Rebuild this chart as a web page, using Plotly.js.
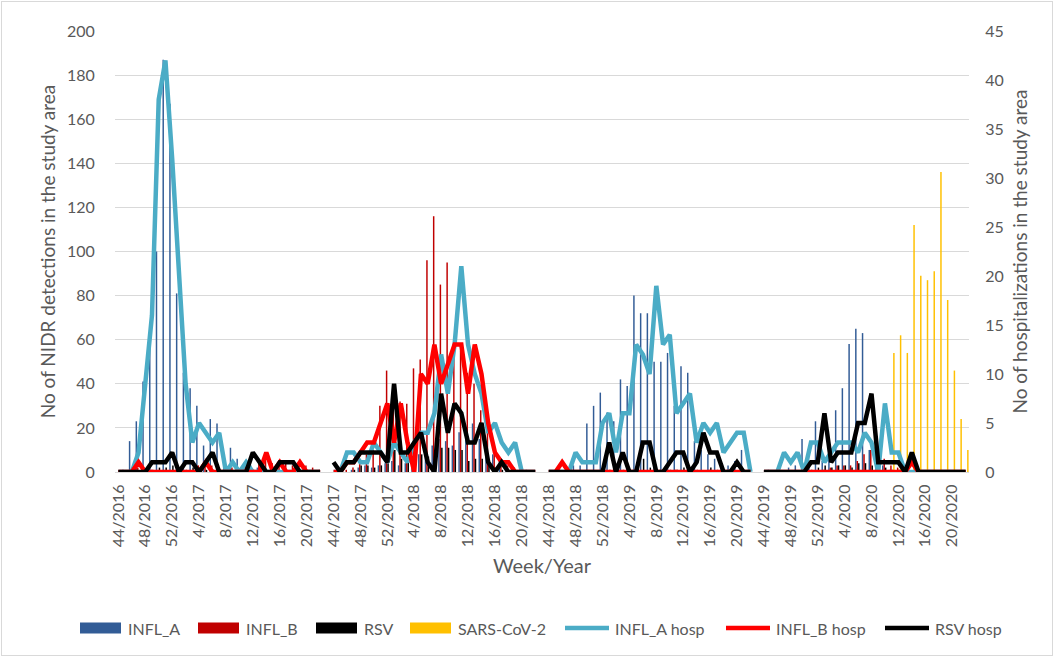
<!DOCTYPE html>
<html><head><meta charset="utf-8">
<script src="https://cdn.plot.ly/plotly-3.0.1.min.js"></script>
<style>
html,body{margin:0;padding:0;background:#fff}
#frame{position:absolute;left:1px;top:1px;width:1050px;height:653px;border:1px solid #D9D9D9}
#chart{position:absolute;left:0;top:0;width:1054px;height:657px}
</style>
</head><body><div id="frame"></div><div id="chart"></div>
<script>
// ---- categories (season weeks 44..22, one blank slot between seasons) ----
const seasonWeeks = [44,45,46,47,48,49,50,51,52,1,2,3,4,5,6,7,8,9,10,11,12,13,14,15,16,17,18,19,20,21,22];
const seasonYears = [[2016,2017],[2017,2018],[2018,2019],[2019,2020]];
const tickWeeks = [44,48,52,4,8,12,16,20];

// ---- series values (one value per category, null = blank slot) ----
const INFL_A = [
  0,1,14,23,41,60,100,187,167,81,45,38,30,12,24,22,8,11,6,4,3,2,1,1,1,0,0,0,0,0,0, null,
  0,0,0,1,2,3,2,3,4,5,3,4,6,8,10,12,15,14,12,18,20,22,15,12,8,6,4,2,1,1,0, null,
  0,0,1,2,3,3,22,30,36,27,23,42,39,80,72,72,50,50,54,30,48,45,14,10,8,6,4,3,5,10,1, null,
  0,1,0,0,2,3,15,5,23,5,8,28,38,58,65,63,10,5,3,1,0,0,0,0,0,0,0,0,0,0,0];
const INFL_B = [
  0,0,0,2,0,1,0,0,0,1,0,0,3,5,3,2,0,2,0,3,0,5,8,4,3,4,3,2,3,2,1, null,
  0,0,1,2,5,8,10,30,46,28,32,31,47,51,96,116,85,95,60,55,45,40,28,20,10,5,3,2,1,0,0, null,
  0,0,0,0,0,0,0,0,0,0,1,0,0,1,0,0,1,0,0,1,0,0,0,0,1,0,0,0,0,0,0, null,
  0,0,0,0,0,0,0,0,0,1,2,3,3,3,5,8,10,10,6,3,2,0,0,0,0,0,0,0,0,0,0];
const RSV = [
  0,0,0,0,1,1,2,2,3,2,1,2,2,1,1,1,1,0,0,0,1,0,0,0,0,0,0,0,0,0,0, null,
  0,0,0,1,3,3,2,3,4,10,6,5,4,8,7,6,11,11,10,10,5,6,6,4,2,1,0,0,0,0,0, null,
  0,0,0,0,0,0,0,0,0,1,0,1,0,1,6,2,1,1,1,1,2,1,1,0,2,1,1,0,0,0,0, null,
  0,0,0,0,0,0,0,1,2,3,2,3,3,2,4,4,3,3,2,1,1,0,0,0,0,0,0,0,0,0,0];
const SARS_CoV_2 = [
  0,0,0,0,0,0,0,0,0,0,0,0,0,0,0,0,0,0,0,0,0,0,0,0,0,0,0,0,0,0,0, null,
  0,0,0,0,0,0,0,0,0,0,0,0,0,0,0,0,0,0,0,0,0,0,0,0,0,0,0,0,0,0,0, null,
  0,0,0,0,0,0,0,0,0,0,0,0,0,0,0,0,0,0,0,0,0,0,0,0,0,0,0,0,0,0,0, null,
  0,0,0,0,0,0,0,0,0,0,0,0,0,0,0,0,0,0,0,54,62,54,112,89,87,91,136,78,46,24,10];
const INFL_A_hosp = [
  0,0,0,2,9,16,38,42,32,20,9,3,5,4,3,4,0,1,0,1,0,0,0,0,0,0,0,0,0,0,0, null,
  0,0,2,2,1,1,3,2,1,3,2,1,3,4,4,6,12,8,13,21,13,10,8,4,5,3,2,3,0,0,0, null,
  0,0,0,0,2,1,1,1,5,6,2,6,6,13,12,10,19,13,14,6,7,8,3,5,4,5,2,3,4,4,0, null,
  0,0,0,2,1,2,0,3,3,1,2,3,3,3,2,4,3,0,7,2,2,0,0,0,0,0,0,0,0,0,0];
const INFL_B_hosp = [
  0,0,0,1,0,0,0,0,0,0,0,0,0,1,0,0,0,0,0,0,0,0,2,0,1,0,0,1,0,0,0, null,
  0,0,1,1,2,3,3,5,7,3,7,3,0,10,9,13,9,11,13,13,8,13,10,5,2,1,1,0,0,0,0, null,
  0,0,1,0,0,0,0,0,0,0,0,0,0,0,0,0,0,0,0,0,0,0,0,0,0,0,0,0,0,0,0, null,
  0,0,0,0,0,0,0,0,0,0,0,0,0,0,0,0,0,0,0,0,0,0,1,0,0,0,0,0,0,0,0];
const RSV_hosp = [
  0,0,0,0,0,1,1,1,2,0,1,1,0,1,2,0,0,0,0,0,2,1,0,0,1,1,1,0,0,0,0, null,
  1,0,1,1,2,2,2,2,1,9,2,2,3,4,1,0,8,4,7,6,3,3,5,1,0,1,0,0,0,0,0, null,
  0,0,0,0,0,0,0,0,0,3,0,2,0,0,3,3,0,0,1,2,2,0,1,4,2,2,0,0,1,0,0, null,
  0,0,0,0,0,0,0,1,1,6,1,2,2,2,5,5,8,1,1,1,1,0,2,0,0,0,0,0,0,0,0];

// ---- build category labels ----
const categories = [];
const tickvals = [];
seasonYears.forEach(([y1, y2], s) => {
  seasonWeeks.forEach(w => {
    const lab = w + '/' + (w >= 44 ? y1 : y2);
    categories.push(lab);
    if (tickWeeks.includes(w)) tickvals.push(lab);
  });
  if (s < seasonYears.length - 1) categories.push('gap' + (s + 1));
});

const FONT = 'Lato, "Open Sans", sans-serif';
const GREY = '#595959';

const barStyle = (name, y, color) => ({
  type: 'bar', name, x: categories, y, marker: {color, line: {width: 0}},
  yaxis: 'y', hoverinfo: 'x+y+name'
});
const lineStyle = (name, y, color) => ({
  type: 'scatter', mode: 'lines', name, x: categories, y,
  line: {color, width: 4.5, shape: 'linear'}, connectgaps: false, yaxis: 'y2'
});

const traces = [
  barStyle('INFL_A', INFL_A, '#325C96'),
  barStyle('INFL_B', INFL_B, '#C00000'),
  barStyle('RSV', RSV, '#000000'),
  barStyle('SARS-CoV-2', SARS_CoV_2, '#FFC000'),
  lineStyle('INFL_A hosp', INFL_A_hosp, '#4BACC6'),
  lineStyle('INFL_B hosp', INFL_B_hosp, '#FF0000'),
  lineStyle('RSV hosp', RSV_hosp, '#000000')
];

// ---- plot-area geometry (pixels) ----
const W = 1054, H = 657, L = 115, R = 969, T = 31, B = 472;
const px = x => (x - L) / (R - L);
const py = y => (B - y) / (B - T);

// custom legend matching Excel's wide swatches
const legendX = [80, 198, 316, 410, 565, 726, 885];
const legendY = 628;
const shapes = [], annotations = [];
traces.forEach((t, k) => {
  const x0 = legendX[k];
  const col = t.type === 'bar' ? t.marker.color : t.line.color;
  if (t.type === 'bar') {
    shapes.push({type: 'rect', xref: 'paper', yref: 'paper', x0: px(x0), x1: px(x0 + 41),
      y0: py(legendY + 5.5), y1: py(legendY - 5.5), fillcolor: col, line: {width: 0}});
  } else {
    shapes.push({type: 'line', xref: 'paper', yref: 'paper', x0: px(x0), x1: px(x0 + 44),
      y0: py(legendY), y1: py(legendY), line: {color: col, width: 4.5}});
  }
  annotations.push({xref: 'paper', yref: 'paper', x: px(x0 + (t.type === 'bar' ? 46 : 48)), y: py(legendY),
    xanchor: 'left', yanchor: 'middle', showarrow: false, text: t.name,
    font: {family: FONT, size: 16, color: GREY}});
});

const layout = {
  width: W, height: H,
  margin: {l: L, r: W - R, t: T, b: H - B, pad: 0},
  paper_bgcolor: 'rgba(0,0,0,0)', plot_bgcolor: 'rgba(0,0,0,0)',
  showlegend: false,
  barmode: 'group', bargap: 0.12, bargroupgap: 0,
  font: {family: FONT, color: GREY},
  xaxis: {
    type: 'category', categoryorder: 'array', categoryarray: categories,
    range: [-0.5, categories.length - 0.5],
    tickmode: 'array', tickvals: tickvals, ticktext: tickvals, tickangle: -90,
    tickfont: {family: FONT, size: 16, color: GREY},
    ticks: 'outside', ticklen: 5, tickcolor: 'rgba(0,0,0,0)',
    showgrid: false, showline: true, linecolor: '#D9D9D9', linewidth: 1, zeroline: false,
    title: {text: 'Week/Year', font: {family: FONT, size: 20, color: GREY}, standoff: 12},
    automargin: false, fixedrange: true
  },
  yaxis: {
    range: [0, 200], tick0: 0, dtick: 20,
    tickfont: {family: FONT, size: 16, color: GREY},
    ticks: 'outside', ticklen: 16, tickcolor: 'rgba(0,0,0,0)',
    showgrid: true, gridcolor: '#D9D9D9', gridwidth: 1, zeroline: false, showline: false,
    title: {text: 'No of NIDR detections in the study area', font: {family: FONT, size: 19, color: GREY}, standoff: 6},
    automargin: false, fixedrange: true
  },
  yaxis2: {
    overlaying: 'y', side: 'right', range: [0, 45], tick0: 0, dtick: 5,
    tickfont: {family: FONT, size: 16, color: GREY},
    ticks: 'outside', ticklen: 12, tickcolor: 'rgba(0,0,0,0)',
    showgrid: false, zeroline: false, showline: false,
    title: {text: 'No of hospitalizations in the study area', font: {family: FONT, size: 19, color: GREY}, standoff: 10},
    automargin: false, fixedrange: true
  },
  shapes, annotations
};

Plotly.newPlot('chart', traces, layout, {displayModeBar: false, staticPlot: true});
</script></body></html>
